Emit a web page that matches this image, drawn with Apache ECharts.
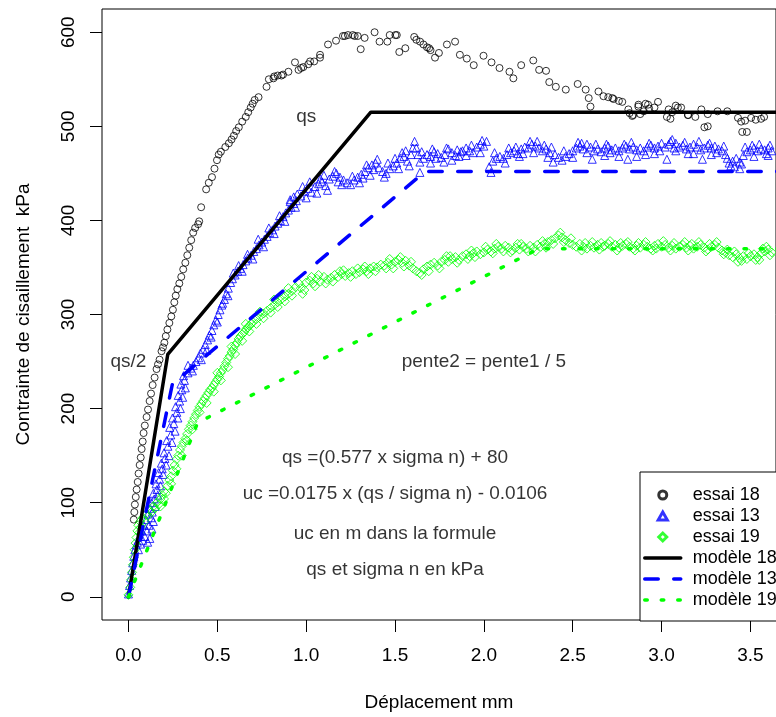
<!DOCTYPE html>
<html>
<head>
<meta charset="utf-8">
<script src="https://cdn.jsdelivr.net/npm/echarts@6/dist/echarts.min.js"></script>
<style>
html, body { margin: 0; padding: 0; background: #fff; }
#chart { width: 776px; height: 717px; }
</style>
</head>
<body>
<div id="chart"></div>
<script>
// ticks
var xTicks = [0, 0.5, 1, 1.5, 2, 2.5, 3, 3.5];
var yTicks = [0, 100, 200, 300, 400, 500, 600];

// essai 18 (cercles noirs)
var essai18 = [
  [0.030,82],[0.033,90],[0.036,98],[0.041,106],[0.046,114],[0.052,122],[0.057,131],[0.063,140],[0.069,148],[0.074,157],
  [0.080,165],[0.085,174],[0.092,182],[0.102,191],[0.110,199],[0.119,208],[0.127,216],[0.136,225],[0.147,233],[0.158,242],
  [0.166,247],[0.175,252],[0.186,261],[0.194,265],[0.202,270],[0.210,277],[0.219,284],[0.230,291],[0.241,298],[0.250,305],
  [0.258,313],[0.266,320],[0.275,327],[0.286,333],[0.297,340],[0.308,348],[0.320,355],[0.331,363],[0.342,371],[0.353,379],
  [0.364,387],[0.375,392],[0.392,396],[0.398,399],[0.409,414],[0.437,433],[0.452,440],[0.470,446],[0.484,455],[0.498,464],
  [0.508,470],[0.520,473],[0.545,478],[0.565,482],[0.580,486],[0.593,490],[0.606,495],[0.621,499],[0.640,505],[0.660,510],
  [0.674,515],[0.688,520],[0.699,524],[0.710,528],[0.732,531],[0.777,542],[0.790,550],[0.816,551],[0.820,553],[0.840,554],
  [0.861,554],[0.870,555],[0.900,558],[0.937,568],[0.957,560],[0.972,562],[0.984,563],[1.012,566],[1.022,569],[1.045,569],
  [1.078,576],[1.078,573],[1.123,587],[1.168,591],[1.207,596],[1.218,596],[1.235,597],[1.262,597],[1.273,596],[1.290,596],
  [1.307,582],[1.329,594],[1.385,600],[1.413,590],[1.457,590],[1.470,597],[1.502,597],[1.510,597],[1.524,579],[1.558,583],
  [1.608,595],[1.620,592],[1.641,590],[1.660,587],[1.680,584],[1.692,583],[1.700,581],[1.725,573],[1.747,578],[1.792,587],
  [1.838,590],[1.865,576],[1.904,572],[1.943,565],[1.998,575],[2.043,568],[2.088,562],[2.144,558],[2.166,551],[2.210,565],
  [2.278,570],[2.311,560],[2.350,559],[2.368,547],[2.405,542],[2.461,539],[2.528,545],[2.573,539],[2.590,530],[2.600,521],
  [2.645,537],[2.673,532],[2.700,531],[2.723,530],[2.730,529],[2.760,527],[2.779,526],[2.813,518],[2.820,514],[2.835,511],
  [2.840,512],[2.869,521],[2.870,523],[2.880,513],[2.900,516],[2.910,524],[2.924,523],[2.930,519],[2.960,520],[2.980,526],
  [3.030,510],[3.040,518],[3.050,508],[3.060,515],[3.080,522],[3.092,520],[3.110,520],[3.148,512],[3.150,512],[3.190,510],
  [3.224,518],[3.241,499],[3.260,513],[3.260,500],[3.315,516],[3.370,516],[3.430,509],[3.448,505],[3.454,494],[3.470,506],
  [3.480,494],[3.504,509],[3.530,507],[3.560,508],[3.577,510]
];

// essai 13 (triangles bleus)
var essai13 = [
  [0.000,3],[0.006,12],[0.012,20],[0.018,28],[0.024,36],[0.030,43],[0.036,50],[0.042,55],
  [0.050,58],[0.056,50],[0.062,64],[0.068,56],[0.074,70],[0.080,60],[0.086,76],[0.092,64],[0.098,82],[0.104,70],
  [0.110,88],[0.116,76],[0.122,94],[0.128,84],[0.134,90],[0.108,58],[0.120,62],[0.132,72],[0.140,80],
  [0.130,100],[0.145,104],[0.140,110],[0.160,114],[0.155,120],[0.175,125],[0.170,132],[0.190,136],[0.185,142],[0.205,147],
  [0.200,153],[0.222,160],[0.215,166],[0.238,172],[0.232,180],[0.255,184],[0.248,190],[0.272,196],[0.265,202],[0.288,208],
  [0.280,214],[0.300,220],[0.295,226],[0.315,230],[0.310,235],[0.335,238],[0.350,243],[0.365,246],[0.380,250],[0.395,254],
  [0.405,259],[0.420,263],[0.432,268],[0.445,273],[0.455,278],[0.470,283],[0.480,289],[0.492,294],[0.505,300],[0.515,305],
  [0.525,310],[0.540,316],[0.550,322],[0.562,328],[0.575,334],[0.585,338],[0.600,342],[0.615,346],[0.630,349],[0.645,353],
  [0.660,357],[0.672,360],[0.690,363],[0.705,367],[0.720,370],[0.735,374],[0.750,377],[0.765,380],[0.780,383],[0.795,387],
  [0.810,390],[0.825,394],[0.840,397],[0.855,400],[0.870,404],[0.885,408],[0.900,411],[0.915,414],[0.930,418],[0.945,421],
  [0.335,246],[0.360,240],[0.410,252],[0.440,262],[0.465,276],[0.500,292],[0.530,312],[0.560,320],[0.590,344],[0.620,352],
  [0.640,346],[0.670,364],[0.700,359],[0.730,380],[0.760,372],[0.790,392],[0.820,386],[0.850,405],[0.880,399],[0.910,420],
  [0.940,414],[0.150,96],[0.165,108],[0.180,118],[0.195,130],[0.212,140],[0.228,150],[0.245,164],[0.262,176],[0.278,190],
  [0.292,200],[0.305,212],[0.320,222],
  [0.91,422],[0.93,425],[0.95,428],[0.97,426],[0.99,431],[1.01,434],[1.03,430],[1.05,436],[1.07,439],[1.09,441],
  [1.11,437],[1.13,444],[1.15,447],[1.17,450],[1.19,446],[1.21,443],[1.23,440],[1.25,438],[1.27,443],[1.29,446],
  [1.31,449],[1.33,452],[1.35,456],[1.37,459],[1.39,461],[1.41,456],[1.43,452],[1.45,450],[1.47,455],[1.49,458],
  [1.51,461],[1.53,466],[1.55,468],[1.57,463],[1.59,470],[1.61,484],[1.62,477],[1.63,470],[1.64,462],[1.64,451],
  [1.66,466],[1.68,470],[1.70,468],[1.72,473],[1.74,471],[1.76,467],[1.775,462],[1.78,470],[1.80,476],[1.82,472],
  [1.84,469],[1.86,468],[1.88,474],[1.90,477],[1.92,474],[1.94,472],[1.96,478],[1.98,481],[2.00,479],[2.015,484],
  [2.03,457],[2.04,451],[2.05,463],[2.07,466],[2.09,468],[2.11,466],[2.13,470],[2.15,472],[2.17,474],[2.19,471],
  [2.21,476],[2.23,478],[2.25,477],[2.27,481],[2.29,479],[2.31,477],[2.33,474],[2.35,476],[2.37,472],[2.39,462],
  [2.40,470],[2.42,467],[2.44,464],[2.46,468],[2.48,471],[2.50,474],[2.52,477],[2.54,479],[2.56,476],[2.58,481],
  [2.60,478],[2.61,465],[2.62,474],[2.64,476],[2.66,473],[2.68,477],[2.70,479],[2.72,475],[2.74,477],[2.76,474],
  [2.78,477],[2.80,479],[2.81,465],[2.82,476],[2.84,478],[2.86,475],[2.88,477],[2.90,474],[2.92,478],[2.94,480],
  [2.96,477],[2.98,479],[3.00,482],[3.02,478],[3.03,465],[3.04,481],[3.06,486],[3.08,482],[3.10,478],[3.12,480],
  [3.14,476],[3.16,478],[3.18,481],[3.20,478],[3.22,475],[3.23,465],[3.24,477],[3.26,480],[3.28,477],[3.30,479],
  [3.32,476],[3.34,474],[3.36,470],[3.37,466],[3.38,461],[3.39,458],[3.40,463],[3.42,466],[3.44,462],[3.45,460],
  [3.46,469],[3.48,473],[3.50,475],[3.52,477],[3.54,474],[3.56,476],[3.58,475],[3.60,477],[3.62,474],
  [1.00,424],[1.06,429],[1.12,432],[1.20,438],[1.30,440],[1.36,448],[1.44,446],[1.52,455],[1.58,458],[1.70,461],
  [1.82,464],[1.90,469],[1.98,472],[2.12,461],[2.20,468],[2.28,472],[2.36,467],[2.50,467],[2.58,472],[2.68,469],
  [2.76,468],[2.86,468],[2.96,471],[3.08,474],[3.18,471],[3.28,470],[3.44,455],[3.52,468],[3.60,469],
  [0.98,436],[1.08,444],[1.16,452],[1.34,459],[1.40,465],[1.54,472],[1.60,477],[1.71,476],[1.87,473],[1.99,485],
  [2.18,478],[2.26,484],[2.34,480],[2.55,482],[2.69,481],[2.79,481],[2.93,482],[3.05,484],[3.13,483],[3.27,482],
  [3.51,480],[3.61,480],
  [1.02,441],[1.10,448],[1.18,441],[1.26,447],[1.32,445],[1.38,454],[1.46,461],[1.50,466],[1.56,474],[1.65,473],
  [1.73,466],[1.79,477],[1.85,475],[1.93,480],[2.06,472],[2.14,477],[2.22,471],[2.30,484],[2.38,478],[2.45,474],
  [2.53,483],[2.63,481],[2.71,472],[2.83,483],[2.91,470],[2.99,474],[3.07,477],[3.15,471],[3.21,484],[3.31,472],
  [3.35,479],[3.41,457],[3.47,478],[3.55,481],[3.59,471]
];

// essai 19 (losanges verts)
var essai19 = [
  [0.000,2],[0.010,10],[0.015,18],[0.020,26],[0.025,34],[0.030,42],[0.035,50],[0.040,57],[0.045,63],[0.050,70],
  [0.055,76],[0.060,68],[0.065,80],[0.070,74],[0.080,84],[0.090,80],[0.100,88],[0.110,86],[0.120,92],[0.130,90],
  [0.140,96],[0.150,94],[0.160,100],[0.170,98],[0.180,104],[0.190,108],[0.200,112],[0.210,110],[0.220,118],[0.230,124],
  [0.240,128],[0.250,134],[0.260,140],[0.270,146],[0.280,150],[0.290,156],[0.300,160],[0.310,164],[0.320,168],[0.330,173],
  [0.340,178],[0.350,182],[0.360,186],[0.370,190],[0.380,194],[0.390,198],[0.400,202],[0.410,205],[0.420,208],[0.430,211],
  [0.440,214],[0.450,217],[0.460,220],[0.470,222],[0.480,225],[0.490,228],[0.500,231],[0.510,234],[0.520,238],[0.530,241],
  [0.540,245],[0.550,249],[0.560,253],[0.570,256],[0.580,260],[0.590,263],[0.600,267],[0.610,270],[0.620,274],[0.630,277],
  [0.640,279],[0.650,281],[0.660,284],[0.670,286],[0.680,288],[0.690,290],[0.700,292],[0.720,295],[0.740,298],[0.760,301],
  [0.780,304],[0.800,307],[0.820,310],[0.840,313],[0.860,316],[0.880,319],[0.900,322],[0.920,325],[0.940,329],
  [0.18,96],[0.20,104],[0.24,120],[0.27,136],[0.30,150],[0.33,166],[0.36,178],[0.40,196],[0.44,206],[0.48,218],
  [0.52,230],[0.56,244],[0.60,258],[0.64,272],[0.68,282],[0.72,290],[0.76,296],[0.80,302],[0.84,308],[0.88,314],
  [0.92,320],[0.50,238],[0.58,266],[0.66,290],[0.74,303],[0.82,316],[0.90,328],
  [0.96,333],[0.97,328],[0.98,322],[0.99,326],[1.00,334],[1.02,336],[1.04,333],[1.06,338],[1.08,335],[1.10,340],
  [1.12,337],[1.14,339],[1.16,342],[1.18,340],[1.20,343],[1.22,341],[1.24,344],[1.26,346],[1.28,343],[1.30,345],
  [1.32,348],[1.34,346],[1.36,349],[1.38,351],[1.40,350],[1.42,353],[1.44,352],[1.46,355],[1.48,353],[1.50,356],
  [1.52,358],[1.54,355],[1.56,357],[1.58,352],[1.60,349],[1.62,346],[1.64,344],[1.66,348],[1.68,351],[1.70,353],
  [1.72,355],[1.74,352],[1.76,356],[1.78,358],[1.80,356],[1.82,359],[1.84,361],[1.86,358],[1.88,362],[1.90,364],
  [1.92,362],[1.94,365],[1.96,367],[1.98,364],[2.00,366],[2.02,369],[2.04,367],[2.06,370],[2.08,372],[2.10,370],
  [2.12,373],[2.14,371],[2.16,368],[2.18,371],[2.20,369],[2.22,372],[2.24,370],[2.26,373],[2.28,371],[2.30,374],
  [2.32,372],[2.34,375],[2.36,377],[2.38,379],[2.40,381],[2.42,384],[2.44,382],[2.46,379],[2.48,376],[2.50,374],
  [2.52,372],[2.54,375],[2.56,372],[2.58,370],[2.60,373],[2.62,371],[2.64,374],[2.66,376],[2.68,373],[2.70,375],
  [2.72,372],[2.74,374],[2.76,371],[2.78,373],[2.80,375],[2.82,372],[2.84,370],[2.86,373],[2.88,371],[2.90,374],
  [2.92,372],[2.94,370],[2.96,373],[2.98,375],[3.00,372],[3.02,374],[3.04,371],[3.06,373],[3.08,370],[3.10,372],
  [3.12,374],[3.14,371],[3.16,373],[3.18,370],[3.20,372],[3.22,374],[3.24,371],[3.26,369],[3.28,372],[3.30,374],
  [3.32,371],[3.34,368],[3.36,366],[3.38,363],[3.40,361],[3.42,364],[3.44,360],[3.46,362],[3.48,359],[3.50,362],
  [3.52,364],[3.54,361],[3.56,365],[3.58,367],[3.60,369],[3.62,366],
  [1.05,330],[1.15,335],[1.25,340],[1.35,343],[1.45,349],[1.55,351],[1.65,342],[1.75,349],[1.85,355],[1.95,361],
  [2.05,365],[2.15,366],[2.25,367],[2.35,371],[2.45,377],[2.55,368],[2.65,369],[2.75,368],[2.85,368],[2.95,368],
  [3.05,368],[3.15,368],[3.25,367],[3.35,364],[3.45,357],[3.55,358],[3.61,363],
  [1.07,342],[1.21,347],[1.33,351],[1.47,359],[1.53,361],[1.79,362],[1.93,368],[2.07,375],[2.21,375],[2.33,378],
  [2.43,387],[2.61,377],[2.71,378],[2.81,377],[2.91,377],[3.01,378],[3.13,377],[3.21,377],[3.31,377],[3.41,367],
  [3.57,370],
  [1.03,340],[1.11,333],[1.19,346],[1.29,349],[1.39,346],[1.49,349],[1.59,356],[1.69,346],[1.81,362],[1.91,359],
  [2.01,372],[2.11,367],[2.19,375],[2.29,367],[2.39,375],[2.49,381],[2.57,376],[2.67,372],[2.77,376],[2.87,376],
  [2.97,370],[3.07,376],[3.17,375],[3.27,375],[3.37,369],[3.43,356],[3.49,365],[3.53,358],[3.59,372]
];

// modèles bilinéaires
var modele18 = [[0, 0], [0.221, 257.5], [1.364, 515], [3.8, 515]];
var modele13 = [[0, 0], [0.247, 226], [1.67, 452], [3.8, 452]];
var modele19 = [[0, 0], [0.389, 185], [2.31, 370], [3.8, 370]];

// textes dans le graphique
var notes = [
  [1.0, 510, 'qs'],
  [0.0, 250, 'qs/2'],
  [2.0, 250, 'pente2 = pente1 / 5'],
  [1.5, 148, 'qs =(0.577 x sigma n) + 80'],
  [1.5, 109, 'uc =0.0175 x (qs / sigma n) - 0.0106'],
  [1.5, 67, 'uc en m dans la formule'],
  [1.5, 29, 'qs et sigma n en kPa']
];

var font = "'Liberation Sans', Arial, sans-serif";
var chart = echarts.init(document.getElementById('chart'));

function points(name, data, symbol, size, color) {
  return {
    name: name, type: 'scatter', data: data, symbol: symbol, symbolSize: size,
    itemStyle: { color: 'rgba(0,0,0,0)', borderColor: color, borderWidth: 1 },
    silent: true
  };
}

function model(name, data, color, dash) {
  return {
    name: name, type: 'line', data: data, symbol: 'none',
    lineStyle: { color: color, width: 3.5, type: dash, cap: 'round', join: 'round' },
    itemStyle: { color: color },
    silent: true, z: 3
  };
}

var option = {
  animation: false,
  backgroundColor: '#fff',
  grid: { left: 102, top: 9, width: 680, height: 612, show: true, borderColor: '#000', borderWidth: 1 },
  xAxis: {
    type: 'value', min: -0.149, max: 3.644,
    axisLine: { show: false, onZero: false }, splitLine: { show: false },
    axisTick: { show: true, length: 12, customValues: xTicks, lineStyle: { color: '#000' } },
    axisLabel: { customValues: xTicks, formatter: function (v) { return v.toFixed(1); },
      fontSize: 19, color: '#000', fontFamily: font, margin: 26 },
    name: 'Déplacement mm', nameLocation: 'middle', nameGap: 73,
    nameTextStyle: { fontSize: 19, color: '#000', fontFamily: font }
  },
  yAxis: {
    type: 'value', min: -24.7, max: 624.7,
    axisLine: { show: false, onZero: false }, splitLine: { show: false },
    axisTick: { show: true, length: 12, customValues: yTicks, lineStyle: { color: '#000' } },
    axisLabel: { customValues: yTicks, rotate: 90, fontSize: 19, color: '#000', fontFamily: font, margin: 24 },
    name: 'Contrainte de cisaillement  kPa', nameLocation: 'middle', nameGap: 69,
    nameTextStyle: { fontSize: 19, color: '#000', fontFamily: font }
  },
  legend: {
    orient: 'vertical', left: 640, top: 472,
    padding: [13, 8, 11, 3], itemGap: 1, itemWidth: 36, itemHeight: 8,
    symbolKeepAspect: true,
    backgroundColor: '#fff', borderColor: '#000', borderWidth: 1, borderRadius: 0,
    selectedMode: false,
    lineStyle: { width: 3.5 },
    textStyle: { fontSize: 18, color: '#000', fontFamily: font, lineHeight: 20, padding: [0, 0, 0, 7] },
    data: [
      { name: 'essai 18', icon: 'circle', symbolKeepAspect: true,
        itemStyle: { color: 'rgba(0,0,0,0)', borderColor: '#000', borderWidth: 3 } },
      { name: 'essai 13', icon: 'path://M4,0L8,7L0,7Z', symbolKeepAspect: true,
        itemStyle: { color: 'rgba(0,0,0,0)', borderColor: '#0000ff', borderWidth: 3 } },
      { name: 'essai 19', icon: 'path://M4,0L8,4L4,8L0,4Z', symbolKeepAspect: true,
        itemStyle: { color: 'rgba(0,0,0,0)', borderColor: '#00ff00', borderWidth: 3 } },
      { name: 'modèle 18', itemStyle: { opacity: 0 } },
      { name: 'modèle 13', itemStyle: { opacity: 0 } },
      { name: 'modèle 19', itemStyle: { opacity: 0 } }
    ]
  },
  series: [
    points('essai 18', essai18, 'circle', 7, '#000'),
    points('essai 13', essai13, 'triangle', 8, '#0000ff'),
    points('essai 19', essai19, 'diamond', 9, '#00ff00'),
    model('modèle 18', modele18, '#000', 'solid'),
    model('modèle 13', modele13, '#0000ff', [13.5, 15.5]),
    model('modèle 19', modele19, '#00ff00', [2.5, 14]),
    {
      type: 'scatter', data: notes, symbolSize: 1, silent: true, z: 5,
      itemStyle: { color: 'rgba(0,0,0,0)' },
      label: { show: true, position: 'inside', formatter: function (p) { return p.data[2]; },
        fontSize: 19, color: '#000', fontFamily: font }
    }
  ]
};

chart.setOption(option);
</script>
</body>
</html>
